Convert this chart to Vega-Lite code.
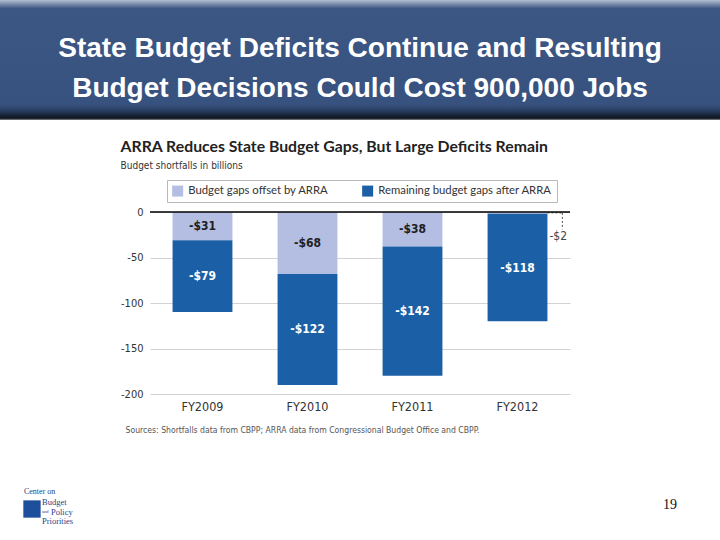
{
  "$schema": "https://vega.github.io/schema/vega-lite/v6.json",
  "padding": 0,
  "background": "white",
  "spacing": 92,
  "bounds": "flush",
  "center": true,
  "resolve": {"scale": {"color": "independent"}, "legend": {"color": "independent"}},
  "config": {"view": {"stroke": null}},
  "datasets": {
    "gaps": [
      {"year": "FY2009", "part": "Budget gaps offset by ARRA", "value": -31, "label": "-$31"},
      {"year": "FY2009", "part": "Remaining budget gaps after ARRA", "value": -79, "label": "-$79"},
      {"year": "FY2010", "part": "Budget gaps offset by ARRA", "value": -68, "label": "-$68"},
      {"year": "FY2010", "part": "Remaining budget gaps after ARRA", "value": -122, "label": "-$122"},
      {"year": "FY2011", "part": "Budget gaps offset by ARRA", "value": -38, "label": "-$38"},
      {"year": "FY2011", "part": "Remaining budget gaps after ARRA", "value": -142, "label": "-$142"},
      {"year": "FY2012", "part": "Budget gaps offset by ARRA", "value": -2, "label": "-$2"},
      {"year": "FY2012", "part": "Remaining budget gaps after ARRA", "value": -118, "label": "-$118"}
    ]
  },
  "vconcat": [
    {
      "width": 720,
      "height": 120,
      "view": {
        "stroke": null,
        "fill": {
          "gradient": "linear",
          "x1": 0, "y1": 0, "x2": 0, "y2": 1,
          "stops": [
            {"offset": 0, "color": "#b4bfd0"},
            {"offset": 0.07, "color": "#3d5784"},
            {"offset": 0.87, "color": "#385280"},
            {"offset": 0.92, "color": "#2a3f63"},
            {"offset": 0.985, "color": "#0d141f"},
            {"offset": 1, "color": "#8a8a8a"}
          ]
        }
      },
      "data": {"values": [
        {"line": 1, "text": "State Budget Deficits Continue and Resulting"},
        {"line": 2, "text": "Budget Decisions Could Cost 900,000 Jobs"}
      ]},
      "mark": {"type": "text", "font": "Liberation Sans, Arial, sans-serif", "fontSize": 28, "fontWeight": "bold", "color": "white", "baseline": "alphabetic", "dy": 16.5},
      "encoding": {
        "y": {"field": "line", "type": "ordinal", "axis": null, "scale": {"type": "point", "padding": 1.318}},
        "text": {"field": "text"}
      }
    },
    {
      "width": 420,
      "height": 182,
      "title": {
        "text": "ARRA Reduces State Budget Gaps, But Large Deficits Remain",
        "subtitle": "Budget shortfalls in billions",
        "anchor": "start",
        "dx": 0,
        "offset": 8,
        "font": "Lato, sans-serif",
        "fontSize": 15.8,
        "fontWeight": "bold",
        "color": "#222222",
        "subtitleFont": "Liberation Sans Narrow, DejaVu Sans Condensed, sans-serif",
        "subtitleFontSize": 10,
        "subtitleColor": "#333333",
        "subtitlePadding": 5
      },
      "data": {"name": "gaps"},
      "layer": [
        {
          "mark": {"type": "bar"},
          "encoding": {
            "x": {
              "field": "year", "type": "nominal",
              "scale": {"paddingInner": 0.43, "paddingOuter": 0.215},
              "axis": {
                "title": "Sources: Shortfalls data from CBPP; ARRA data from Congressional Budget Office and CBPP.",
                "titleX": -25, "titleY": 38, "titleAlign": "left", "titleAnchor": "start", "titleBaseline": "alphabetic",
                "titleFont": "Liberation Sans Narrow, DejaVu Sans Condensed, sans-serif", "titleFontSize": 8.6, "titleFontWeight": "normal", "titleColor": "#555555",
                "labelFont": "Liberation Sans Narrow, DejaVu Sans Condensed, sans-serif", "labelFontSize": 12.5, "labelColor": "#333333",
                "labelPadding": 6, "labelAngle": 0, "ticks": false, "domain": false
              }
            },
            "y": {
              "field": "value", "type": "quantitative", "stack": "zero",
              "scale": {"domain": [-200, 0], "nice": false},
              "axis": {
                "title": null,
                "values": [-200, -175, -150, -125, -100, -75, -50, -25, 0],
                "labelExpr": "datum.value % 50 === 0 ? replace(datum.label, '\u2212', '-') : ''",
                "labelOverlap": false,
                "labelFont": "Liberation Sans Narrow, DejaVu Sans Condensed, sans-serif", "labelFontSize": 11, "labelColor": "#333333",
                "labelPadding": 7, "ticks": false, "domain": false,
                "grid": true, "gridColor": "#d3d3d3", "gridWidth": 1
              }
            },
            "order": {"field": "part", "sort": "ascending"},
            "color": {
              "field": "part", "type": "nominal",
              "scale": {"domain": ["Budget gaps offset by ARRA", "Remaining budget gaps after ARRA"], "range": ["#b3bee2", "#1b5fa7"]},
              "legend": {
                "orient": "none", "legendX": 17, "legendY": -32, "direction": "horizontal", "title": null,
                "fillColor": "white", "strokeColor": "#b8b8b8", "padding": 5,
                "symbolType": "square", "symbolSize": 121, "symbolStrokeWidth": 0,
                "labelFont": "Lato, sans-serif", "labelFontSize": 11.3, "labelColor": "#333333", "labelLimit": 0,
                "columnPadding": 33, "labelOffset": 5
              }
            }
          }
        },
        {
          "mark": {"type": "text", "font": "Liberation Sans Narrow, DejaVu Sans Condensed, sans-serif", "fontSize": 12, "fontWeight": "bold", "baseline": "middle"},
          "encoding": {
            "x": {"field": "year", "type": "nominal"},
            "y": {"field": "value", "type": "quantitative", "stack": "zero", "bandPosition": 0.5, "scale": {"domain": [-200, 0], "nice": false}},
            "detail": {"field": "part"},
            "order": {"field": "part", "sort": "ascending"},
            "text": {"condition": {"test": "datum.value > -5", "value": ""}, "field": "label"},
            "color": {"condition": {"test": "datum.part === 'Remaining budget gaps after ARRA'", "value": "white"}, "value": "#1f1f1f"}
          }
        },
        {
          "transform": [{"filter": "datum.value > -5"}],
          "mark": {"type": "rule", "color": "#555555", "strokeWidth": 1, "strokeDash": [2, 2]},
          "encoding": {
            "x": {"field": "year", "type": "nominal", "bandPosition": 1},
            "x2": {"field": "year", "bandPosition": 1.25},
            "y": {"datum": -1, "type": "quantitative", "scale": {"domain": [-200, 0], "nice": false}}
          }
        },
        {
          "transform": [{"filter": "datum.value > -5"}],
          "mark": {"type": "rule", "color": "#555555", "strokeWidth": 1, "strokeDash": [2, 2]},
          "encoding": {
            "x": {"field": "year", "type": "nominal", "bandPosition": 1.25},
            "y": {"datum": -1, "type": "quantitative", "scale": {"domain": [-200, 0], "nice": false}},
            "y2": {"datum": -19}
          }
        },
        {
          "transform": [{"filter": "datum.value > -5"}],
          "mark": {"type": "text", "font": "Liberation Sans Narrow, DejaVu Sans Condensed, sans-serif", "fontSize": 12, "color": "#444444", "baseline": "middle"},
          "encoding": {
            "x": {"field": "year", "type": "nominal", "bandPosition": 1.18},
            "y": {"datum": -26, "type": "quantitative", "scale": {"domain": [-200, 0], "nice": false}},
            "text": {"field": "label"}
          }
        },
        {
          "data": {"values": [{}]},
          "mark": {"type": "rule", "color": "black", "strokeWidth": 1.5},
          "encoding": {
            "y": {"datum": 0, "type": "quantitative", "scale": {"domain": [-200, 0], "nice": false}}
          }
        }
      ]
    },
    {
      "width": 720,
      "height": 44,
      "encoding": {
        "x": {"field": "side", "type": "nominal", "axis": null, "scale": {"type": "point", "domain": ["left", "right"], "padding": 0.0573, "align": 0.324}}
      },
      "layer": [
        {
          "data": {"values": [{"side": "left"}]},
          "mark": {"type": "point", "shape": "square", "filled": true, "color": "#1d4f9c", "opacity": 1, "size": 300, "xOffset": 8, "yOffset": 1}
        },
        {
          "data": {"values": [{"side": "left", "text": "Center on"}]},
          "mark": {"type": "text", "align": "left", "baseline": "alphabetic", "font": "Liberation Serif, serif", "fontSize": 8, "color": "#1e3f7a", "dy": -14},
          "encoding": {"text": {"field": "text"}}
        },
        {
          "data": {"values": [{"side": "left", "text": "Budget"}]},
          "mark": {"type": "text", "align": "left", "baseline": "alphabetic", "font": "Liberation Serif, serif", "fontSize": 8.5, "color": "#1e3f8a", "dx": 18, "dy": -3},
          "encoding": {"text": {"field": "text"}}
        },
        {
          "data": {"values": [{"side": "left", "text": "and"}]},
          "mark": {"type": "text", "align": "left", "baseline": "alphabetic", "font": "Liberation Serif, serif", "fontSize": 4.5, "color": "#1e3f8a", "dx": 18, "dy": 4.5},
          "encoding": {"text": {"field": "text"}}
        },
        {
          "data": {"values": [{"side": "left", "text": "Policy"}]},
          "mark": {"type": "text", "align": "left", "baseline": "alphabetic", "font": "Liberation Serif, serif", "fontSize": 8.5, "color": "#1e3f8a", "dx": 27, "dy": 6.5},
          "encoding": {"text": {"field": "text"}}
        },
        {
          "data": {"values": [{"side": "left", "text": "Priorities"}]},
          "mark": {"type": "text", "align": "left", "baseline": "alphabetic", "font": "Liberation Serif, serif", "fontSize": 8.5, "color": "#1e3f8a", "dx": 18, "dy": 16}, 
          "encoding": {"text": {"field": "text"}}
        },
        {
          "data": {"values": [{"side": "right", "text": "19"}]},
          "mark": {"type": "text", "align": "center", "baseline": "alphabetic", "font": "Liberation Serif, serif", "fontSize": 14, "color": "#111111", "dy": 1},
          "encoding": {"text": {"field": "text"}}
        }
      ]
    }
  ]
}
